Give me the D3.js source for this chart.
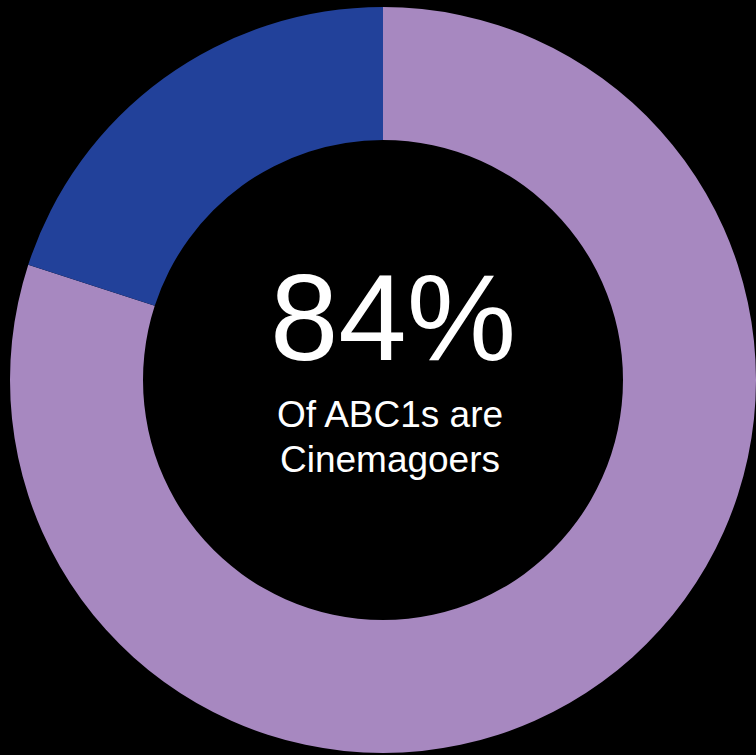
<!DOCTYPE html>
<html>
<head>
<meta charset="utf-8">
<script src="https://cdn.jsdelivr.net/npm/d3@7"></script>
<style>
  html, body { margin: 0; padding: 0; background: #000; }
  svg { display: block; }
</style>
</head>
<body>
<div id="chart"></div>
<script>
const width = 756;
const height = 755;

// slices, clockwise from 12 o'clock
const categories = ['Cinemagoers', 'Non-cinemagoers'];
const values = [80, 20];
const colors = ['#a788c0', '#22419a'];

const headline = '84%';
const captionLines = ['Of ABC1s are', 'Cinemagoers'];

const cx = 383;
const cy = 380;
const outerRadius = 373;
const innerRadius = 240;

const svg = d3.select('#chart').append('svg')
    .attr('width', width)
    .attr('height', height)
    .style('background', '#000');

const pie = d3.pie()
    .sort(null)
    .value(d => d.value);

const arc = d3.arc()
    .innerRadius(innerRadius)
    .outerRadius(outerRadius);

const data = categories.map((c, i) => ({ name: c, value: values[i], color: colors[i] }));

const g = svg.append('g')
    .attr('transform', `translate(${cx},${cy})`);

g.selectAll('path')
    .data(pie(data))
    .join('path')
    .attr('d', arc)
    .style('fill', d => d.data.color);

// centre text
const font = '"Liberation Sans", Arial, sans-serif';

svg.append('text')
    .attr('x', 393)
    .attr('y', 360)
    .attr('text-anchor', 'middle')
    .style('font-family', font)
    .style('font-size', '123px')
    .style('fill', '#fff')
    .text(headline);

svg.selectAll('text.caption')
    .data(captionLines)
    .join('text')
    .attr('class', 'caption')
    .attr('x', 390)
    .attr('y', (d, i) => 427 + i * 45)
    .attr('text-anchor', 'middle')
    .style('font-family', font)
    .style('font-size', '37px')
    .style('fill', '#fff')
    .text(d => d);
</script>
</body>
</html>
